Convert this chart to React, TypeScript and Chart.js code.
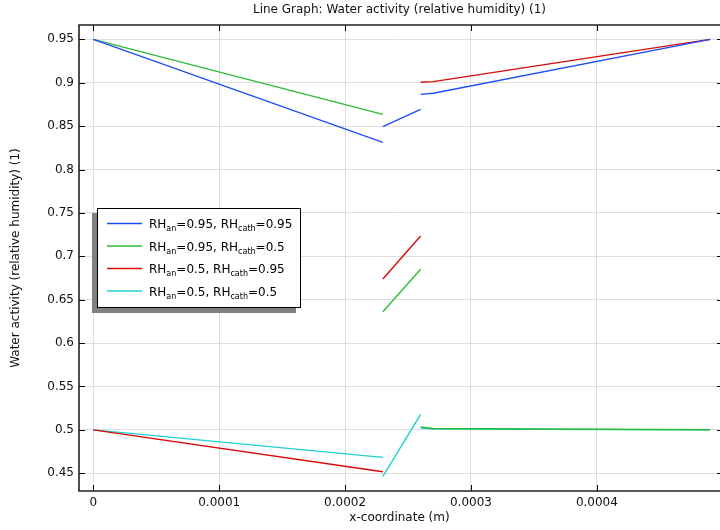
import { useEffect, useRef } from 'react';
import { Chart, registerables } from 'chart.js';

Chart.register(...registerables);

const FONT = '"DejaVu Sans", "Liberation Sans", sans-serif';

const titleText = 'Line Graph: Water activity (relative humidity) (1)';
const xTitle = 'x-coordinate (m)';
const yTitle = 'Water activity (relative humidity) (1)';

// x positions (m) of each region
const xLeft = [0, 0.00023];
const xMid = [0.00023, 0.00026];
const xRight = [0.00026, 0.00027, 0.00049];

// RHan=0.95, RHcath=0.95
const blueLeft = [0.95, 0.8313];
const blueMid = [0.8493, 0.8694];
const blueRight = [0.8866, 0.8878, 0.95];
// RHan=0.95, RHcath=0.5
const greenLeft = [0.95, 0.8636];
const greenMid = [0.6362, 0.685];
const greenRight = [0.5033, 0.5016, 0.5002];
// RHan=0.5, RHcath=0.95
const redLeft = [0.5, 0.4518];
const redMid = [0.6739, 0.7234];
const redRight = [0.9005, 0.9012, 0.95];
// RHan=0.5, RHcath=0.5
const cyanLeft = [0.5, 0.4684];
const cyanMid = [0.4465, 0.518];
const cyanRight = [0.502, 0.5011, 0.5];

const anodeRH = ['0.95', '0.95', '0.5', '0.5'];
const cathodeRH = ['0.95', '0.5', '0.95', '0.5'];
const colors = ['#1f4ef2', '#2fbb3a', '#d80a0a', '#1fd0d6'];

const xTicks = [0, 0.0001, 0.0002, 0.0003, 0.0004];
const xTickLabels = ['0', '0.0001', '0.0002', '0.0003', '0.0004'];
const yTicks = [0.45, 0.5, 0.55, 0.6, 0.65, 0.7, 0.75, 0.8, 0.85, 0.9, 0.95];
const yTickLabels = ['0.45', '0.5', '0.55', '0.6', '0.65', '0.7', '0.75', '0.8', '0.85', '0.9', '0.95'];

const X_MIN = -0.00001136;
const X_MAX = 0.0004978;
const Y_MIN = 0.4296;
const Y_MAX = 0.9665;

function seg(xs: number[], ys: number[]) {
  return xs.map((x, i) => ({ x, y: ys[i] }));
}

function build(l: number[], m: number[], r: number[]) {
  return [
    ...seg(xLeft, l),
    { x: 0.00023, y: null },
    ...seg(xMid, m),
    { x: 0.00026, y: null },
    ...seg(xRight, r),
  ];
}

const seriesData = [
  build(blueLeft, blueMid, blueRight),
  build(greenLeft, greenMid, greenRight),
  build(redLeft, redMid, redRight),
  build(cyanLeft, cyanMid, cyanRight),
];

const decorPlugin = {
  id: 'decor',
  afterDraw(chart: any) {
    const { ctx, chartArea: a, scales } = chart;
    const xs = scales.x;
    const ys = scales.y;
    ctx.save();
    // inward ticks
    ctx.strokeStyle = '#000';
    ctx.lineWidth = 1;
    ctx.beginPath();
    xTicks.forEach((v) => {
      const px = Math.round(xs.getPixelForValue(v)) + 0.5;
      ctx.moveTo(px, a.bottom);
      ctx.lineTo(px, a.bottom - 6);
      ctx.moveTo(px, a.top);
      ctx.lineTo(px, a.top + 6);
    });
    yTicks.forEach((v) => {
      const py = Math.round(ys.getPixelForValue(v)) + 0.5;
      ctx.moveTo(a.left, py);
      ctx.lineTo(a.left + 6, py);
      ctx.moveTo(a.right, py);
      ctx.lineTo(a.right - 3, py);
    });
    ctx.stroke();
    // frame
    ctx.strokeStyle = '#222';
    ctx.lineWidth = 1.6;
    ctx.beginPath();
    ctx.moveTo(a.right, a.top);
    ctx.lineTo(a.left, a.top);
    ctx.lineTo(a.left, a.bottom);
    ctx.lineTo(a.right, a.bottom);
    ctx.stroke();

    // titles
    ctx.fillStyle = '#111';
    ctx.font = '12px ' + FONT;
    ctx.textAlign = 'center';
    ctx.textBaseline = 'middle';
    ctx.fillText(titleText, (a.left + a.right) / 2, 10);
    ctx.fillText(xTitle, (a.left + a.right) / 2, 518);
    ctx.save();
    ctx.translate(16, (a.top + a.bottom) / 2);
    ctx.rotate(-Math.PI / 2);
    ctx.fillText(yTitle, 0, 0);
    ctx.restore();

    // legend
    const bx = 97, by = 208, bw = 204, bh = 100;
    ctx.fillStyle = '#808080';
    ctx.fillRect(bx - 5, by + 5, bw, bh);
    ctx.fillStyle = '#fff';
    ctx.fillRect(bx, by, bw, bh);
    ctx.strokeStyle = '#000';
    ctx.lineWidth = 1;
    ctx.strokeRect(bx + 0.5, by + 0.5, bw - 1, bh - 1);
    const rowY = [223.5, 246, 268.5, 291];
    ctx.textAlign = 'left';
    ctx.textBaseline = 'alphabetic';
    anodeRH.forEach((an, i) => {
      const y = rowY[i];
      ctx.strokeStyle = colors[i];
      ctx.lineWidth = 1.5;
      ctx.beginPath();
      ctx.moveTo(107, y);
      ctx.lineTo(142, y);
      ctx.stroke();
      const base = y + 4.5;
      let x = 149;
      const parts: [string, boolean][] = [
        ['RH', false], ['an', true], ['=' + an + ', RH', false], ['cath', true], ['=' + cathodeRH[i], false],
      ];
      ctx.fillStyle = '#000';
      parts.forEach(([t, sub]) => {
        ctx.font = (sub ? '8px ' : '12px ') + FONT;
        ctx.fillText(t, x, sub ? base + 3 : base);
        x += ctx.measureText(t).width;
      });
    });
    ctx.restore();
  },
};

export default function App() {
  const ref = useRef<HTMLCanvasElement | null>(null);
  useEffect(() => {
    if (!ref.current) return;
    const chart = new Chart(ref.current, {
      type: 'line',
      data: {
        datasets: seriesData.map((d, i) => ({
          label: 'RHan=' + anodeRH[i] + ', RHcath=' + cathodeRH[i],
          data: d as any,
          borderColor: colors[i],
          backgroundColor: colors[i],
          borderWidth: 1.4,
          pointRadius: 0,
          tension: 0,
          spanGaps: false,
          fill: false,
        })),
      },
      options: {
        responsive: false,
        animation: false,
        layout: { padding: { top: 25, right: 0, left: 0, bottom: 0 } },
        plugins: {
          legend: { display: false },
          title: { display: false },
          tooltip: { enabled: false },
        },
        scales: {
          x: {
            type: 'linear',
            min: X_MIN,
            max: X_MAX,
            afterFit: (s: any) => { s.height = 39; },
            afterBuildTicks: (s: any) => { s.ticks = xTicks.map((v) => ({ value: v })); },
            ticks: {
              callback: (v: any) => { const i = xTicks.indexOf(v); return i >= 0 ? xTickLabels[i] : ''; },
              font: { family: FONT, size: 12 },
              color: '#111',
              padding: 5,
              maxRotation: 0,
              autoSkip: false,
            },
            grid: { color: '#dedede', drawTicks: false, lineWidth: 1 },
            border: { display: false },
          },
          y: {
            type: 'linear',
            min: Y_MIN,
            max: Y_MAX,
            afterFit: (s: any) => { s.width = 79; },
            afterBuildTicks: (s: any) => { s.ticks = yTicks.map((v) => ({ value: v })); },
            ticks: {
              callback: (v: any) => { const i = yTicks.indexOf(v); return i >= 0 ? yTickLabels[i] : ''; },
              font: { family: FONT, size: 12 },
              color: '#111',
              padding: 5,
              autoSkip: false,
            },
            grid: { color: '#dedede', drawTicks: false, lineWidth: 1 },
            border: { display: false },
          },
        },
      },
      plugins: [decorPlugin],
    });
    return () => chart.destroy();
  }, []);
  return (
    <div style={{ position: 'absolute', left: 0, top: 0, width: 720, height: 530 }}>
      <canvas ref={ref} width={720} height={530} style={{ display: 'block' }} />
    </div>
  );
}
